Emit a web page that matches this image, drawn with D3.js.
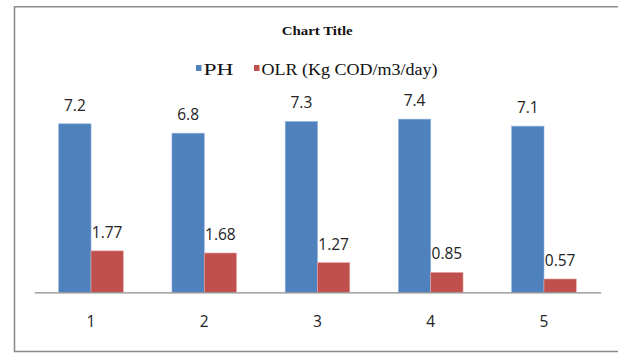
<!DOCTYPE html>
<html>
<head>
<meta charset="utf-8">
<script src="https://cdn.jsdelivr.net/npm/d3@7"></script>
<style>
  html, body { margin: 0; padding: 0; background: #fff; }
  svg { display: block; }
</style>
</head>
<body>
<svg id="chart" width="618" height="353"></svg>
<script>
const categories = ["1", "2", "3", "4", "5"];
const seriesNames = ["PH", "OLR (Kg COD/m3/day)"];
const phValues = [7.2, 6.8, 7.3, 7.4, 7.1];
const olrValues = [1.77, 1.68, 1.27, 0.85, 0.57];
const phLabels = ["7.2", "6.8", "7.3", "7.4", "7.1"];
const olrLabels = ["1.77", "1.68", "1.27", "0.85", "0.57"];
const colors = ["#4F81BD", "#C0504D"];
const strokes = ["#8DB3E2", "#E6A9A7"];

const rows = categories.map((c, i) => ({
  cat: c,
  vals: [
    { s: 0, v: phValues[i], lab: phLabels[i] },
    { s: 1, v: olrValues[i], lab: olrLabels[i] }
  ]
}));

const svg = d3.select("#chart");

// outer frame (left, top, bottom)
svg.append("path")
  .attr("d", "M618,6.7 H14.5 V351.5 H618")
  .attr("fill", "none")
  .attr("stroke", "#8c8c8c")
  .attr("stroke-width", 1.6);

const x0 = d3.scaleBand().domain(categories).range([34.4, 600.6]).padding(0);
const x1 = d3.scaleBand().domain([0, 1]).range([0, x0.bandwidth()]).paddingInner(0).paddingOuter(0.753);
const y = d3.scaleLinear().domain([0, 8]).range([292.3, 105.1]);

// bars
const g = svg.append("g");
const groups = g.selectAll("g.cat").data(rows).join("g")
  .attr("transform", d => `translate(${x0(d.cat)},0)`);

groups.selectAll("rect").data(d => d.vals).join("rect")
  .attr("x", d => x1(d.s))
  .attr("y", d => y(d.v))
  .attr("width", x1.bandwidth())
  .attr("height", d => y(0) - y(d.v))
  .attr("fill", d => colors[d.s])
  .attr("stroke", d => strokes[d.s])
  .attr("stroke-width", 0.6);

groups.selectAll("text").data(d => d.vals).join("text")
  .attr("x", d => x1(d.s) + x1.bandwidth() / 2)
  .attr("y", d => y(d.v) - 13)
  .attr("text-anchor", "middle")
  .attr("font-family", "'Open Sans', sans-serif")
  .attr("font-size", 15.5)
  .attr("fill", "#222")
  .text(d => d.lab);

// x axis
const xAxis = d3.axisBottom(x0).tickSize(0).tickPadding(0);
const ax = svg.append("g").attr("transform", `translate(0,${y(0)})`).call(xAxis);
ax.select(".domain").attr("stroke", "#8c8c8c").attr("stroke-width", 1.3);
ax.selectAll(".tick text")
  .attr("dy", 0)
  .attr("y", 35)
  .attr("font-family", "'Open Sans', sans-serif")
  .attr("font-size", 15.5)
  .attr("fill", "#222");

// title
svg.append("text")
  .attr("x", 281.7).attr("y", 35)
  .attr("font-family", "'Liberation Serif', serif")
  .attr("font-weight", "bold")
  .attr("font-size", 13)
  .attr("fill", "#111")
  .attr("textLength", 71)
  .attr("lengthAdjust", "spacingAndGlyphs")
  .text("Chart Title");

// legend
const legendX = [196, 254];
const legendW = [30, 176];
const leg = svg.append("g");
seriesNames.forEach((name, i) => {
  leg.append("rect")
    .attr("x", legendX[i]).attr("y", 65)
    .attr("width", 5.5).attr("height", 6)
    .attr("fill", colors[i]);
  leg.append("text")
    .attr("x", legendX[i] + 7.5).attr("y", 74.5)
    .attr("font-family", "'Liberation Serif', serif")
    .attr("font-size", 16.5)
    .attr("fill", "#111")
    .attr("textLength", legendW[i])
    .attr("lengthAdjust", "spacingAndGlyphs")
    .text(name);
});
</script>
</body>
</html>
